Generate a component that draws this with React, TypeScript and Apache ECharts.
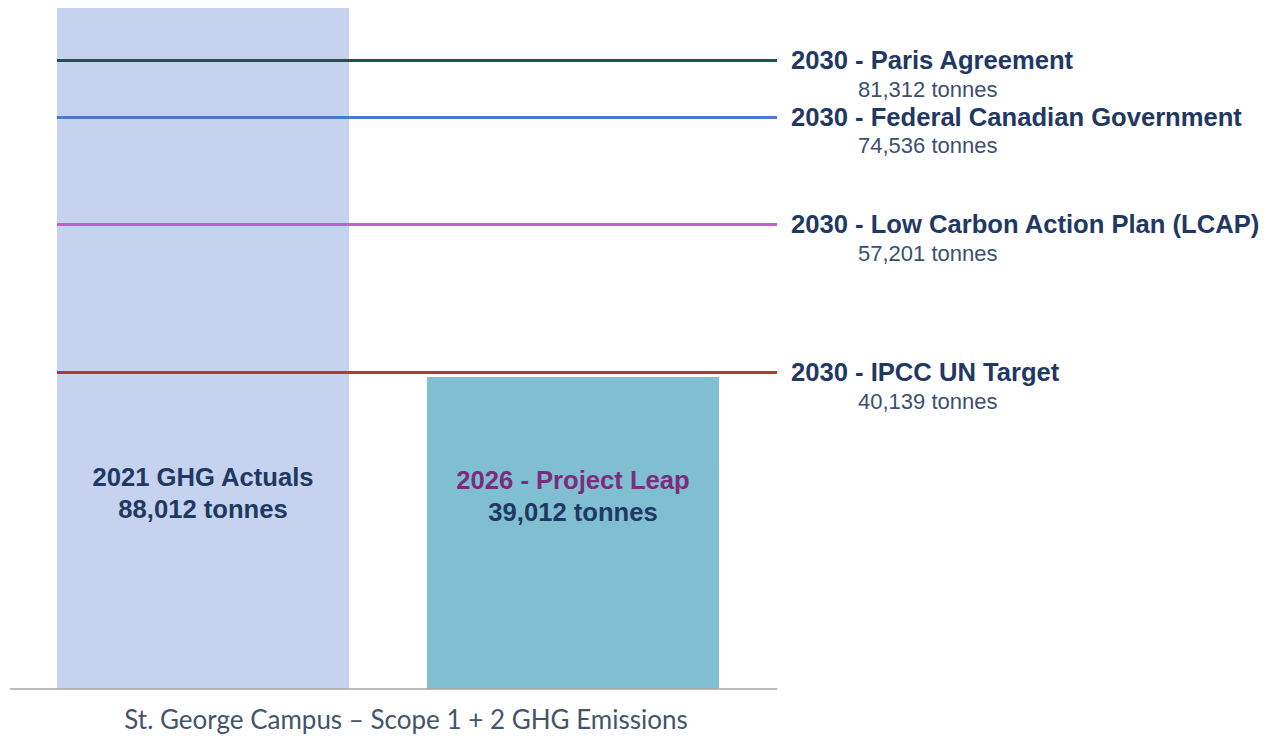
import React, { useEffect, useRef } from "react";
import * as echarts from "echarts";

// ---- data ----
const categories = ["2021 GHG Actuals", "2026 - Project Leap"];
const barTonnes = [88012, 39012]; // stated values
const barLevels = [88012, 40320]; // bar heights as drawn
const barColors = ["#c6d3ee", "#80bed1"];

const targetNames = [
  "2030 - Paris Agreement",
  "2030 - Federal Canadian Government",
  "2030 - Low Carbon Action Plan (LCAP)",
  "2030 - IPCC UN Target",
];
const targetTonnes = [81312, 74536, 57201, 40139]; // stated values
const targetLevels = [81291, 73925, 60096, 40968]; // line levels as drawn
const targetColors = ["#1c5450", "#4a7bd0", "#c15fd0", "#b3392c"];

const axisTitle = "St. George Campus \u2013 Scope 1 + 2 GHG Emissions";

const fmt = (v: number) => v.toLocaleString("en-US") + " tonnes";

export default function App() {
  const ref = useRef<HTMLDivElement>(null);

  useEffect(() => {
    if (!ref.current) return;
    const chart = echarts.init(ref.current, null, { renderer: "svg" });
    const navy = "#1f3864";
    const font = "'Liberation Sans', Arial, sans-serif";

    const targetLines = targetNames.map((name, i) => [
      {
        yAxis: targetLevels[i],
        x: 57,
        lineStyle: { color: targetColors[i], width: 3, type: "solid" },
        label: {
          show: true,
          position: "end",
          distance: 14,
          padding: [28, 0, 0, 0],
          formatter: `{t|${name}}\n{s|${fmt(targetTonnes[i])}}`,
          rich: {
            t: { fontFamily: font, fontWeight: "bold", fontSize: 25.6, color: navy, lineHeight: 30 },
            s: { fontFamily: font, fontSize: 22, color: "#3c4f70", lineHeight: 28, padding: [0, 0, 0, 67] },
          },
        },
      },
      { yAxis: targetLevels[i], x: 777 },
    ]);

    const baseLine = [
      {
        yAxis: 0,
        x: 10,
        lineStyle: { color: "#a6a6a6", width: 1.5, type: "solid" },
        label: { show: false },
      },
      { yAxis: 0, x: 777 },
    ];

    chart.setOption({
      animation: false,
      backgroundColor: "#ffffff",
      title: {
        text: axisTitle,
        left: 406,
        top: 704,
        padding: 0,
        textAlign: "center",
        textStyle: { fontFamily: "Lato, 'Open Sans', sans-serif", fontWeight: "normal", fontSize: 26, lineHeight: 30, color: "#44546a" },
      },
      grid: { left: 18, right: 513, top: 8, bottom: 47 },
      xAxis: {
        type: "category",
        data: categories,
        axisLine: { show: false },
        axisTick: { show: false },
        axisLabel: { show: false },
      },
      yAxis: {
        type: "value",
        min: 0,
        max: 88012,
        show: false,
        splitLine: { show: false },
      },
      series: [
        {
          type: "bar",
          barWidth: 292,
          data: categories.map((c, i) => ({
            value: barLevels[i],
            itemStyle: { color: barColors[i] },
            label: {
              show: true,
              position: "insideBottom",
              distance: i === 0 ? 164 : 161,
              formatter: `{${i === 0 ? "a" : "p"}|${c}}\n{a|${fmt(barTonnes[i])}}`,
              rich: {
                a: { fontFamily: font, fontWeight: "bold", fontSize: 25.6, color: navy, lineHeight: 32 },
                p: { fontFamily: font, fontWeight: "bold", fontSize: 25.6, color: "#7b2c7e", lineHeight: 32 },
              },
            },
          })),
          markLine: {
            silent: true,
            symbol: "none",
            data: [baseLine, ...targetLines],
          },
        },
      ],
    });
    return () => chart.dispose();
  }, []);

  return (
    <div
      ref={ref}
      style={{ position: "fixed", left: 0, top: 0, width: 1271, height: 736, background: "#fff" }}
    />
  );
}
